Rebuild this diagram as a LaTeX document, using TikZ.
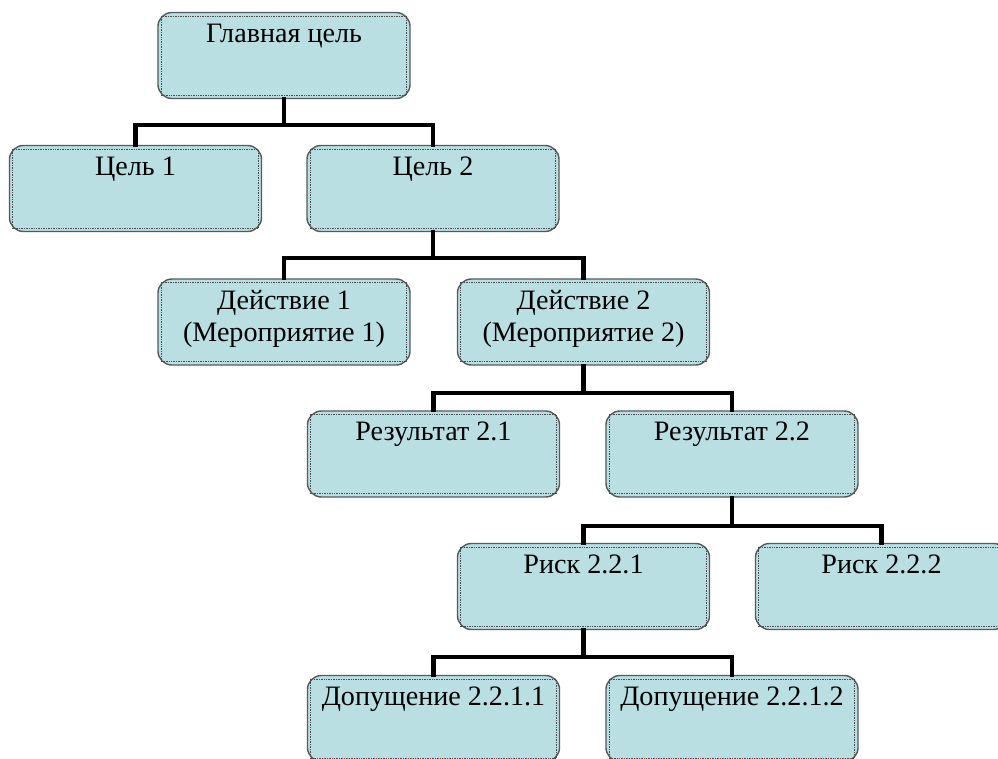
\documentclass[tikz,border=0pt]{standalone}
\usepackage{fontspec}
\setmainfont{Liberation Serif}
\newfontfamily\boxfont{Liberation Serif}
\usepackage{tikz}

\definecolor{boxfill}{RGB}{186,223,227}
\definecolor{boxline}{RGB}{85,90,92}

\begin{document}
\begin{tikzpicture}
	[x=0.025cm, y=-0.025cm,
	box/.style ={rectangle, draw=boxline, line width=1pt, fill=boxfill, rounded corners=0.35cm, minimum width=6.3cm, minimum height=2.15cm, label={[below, yshift=-0.29cm, inner sep=0pt, align=center, font=\boxfont\fontsize{20}{22.5}\selectfont]north:#1}},
	inner/.style ={draw=black!70, line width=0.4pt, dash pattern=on 0.5pt off 0.7pt},
	link/.style ={draw, line width=3pt, line cap=rect}]
	\clip (0,0) rectangle (998,758);
	\draw (284, 55.5) node[box={Главная цель}] (main) {};
	\draw (135.5, 188.5) node[box={Цель 1}] (goal1) {};
	\draw (433, 188.5) node[box={Цель 2}] (goal2) {};
	\draw (284, 322) node[box={Действие 1\\(Мероприятие 1)}] (act1) {};
	\draw (583.5, 322) node[box={Действие 2\\(Мероприятие 2)}] (act2) {};
	\draw (433.5, 454) node[box={Результат 2.1}] (res1) {};
	\draw (732, 454) node[box={Результат 2.2}] (res2) {};
	\draw (583.5, 586.5) node[box={Риск 2.2.1}] (risk1) {};
	\draw (881.5, 586.5) node[box={Риск 2.2.2}] (risk2) {};
	\draw (433.5, 718.5) node[box={Допущение 2.2.1.1}] (asm1) {};
	\draw (732, 718.5) node[box={Допущение 2.2.1.2}] (asm2) {};
	% dotted inner frames
	\foreach \n in {main, goal1, goal2, act1, act2, res1, res2, risk1, risk2, asm1, asm2}
		\draw[inner] ([shift={(4,-4)}]\n.south west) rectangle ([shift={(-4,4)}]\n.north east);
	% tree links
	\draw[link] (main.south) -- ++(0,26) -| (goal1.north);
	\draw[link] (main.south) -- ++(0,26) -| (goal2.north);
	\draw[link] (goal2.south) -- ++(0,26) -| (act1.north);
	\draw[link] (goal2.south) -- ++(0,26) -| (act2.north);
	\draw[link] (act2.south) -- ++(0,27) -| (res1.north);
	\draw[link] (act2.south) -- ++(0,27) -| (res2.north);
	\draw[link] (res2.south) -- ++(0,28) -| (risk1.north);
	\draw[link] (res2.south) -- ++(0,28) -| (risk2.north);
	\draw[link] (risk1.south) -- ++(0,27) -| (asm1.north);
	\draw[link] (risk1.south) -- ++(0,27) -| (asm2.north);
\end{tikzpicture}
\end{document}
